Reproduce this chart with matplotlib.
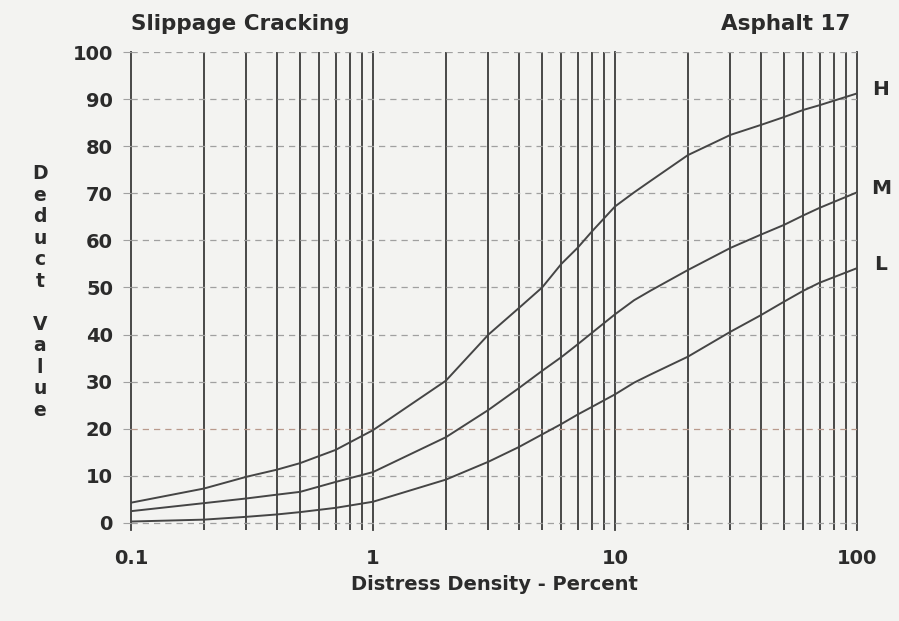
import matplotlib
matplotlib.use("Agg")
import matplotlib.pyplot as plt
from matplotlib.ticker import LogLocator, FixedLocator, NullFormatter

plt.rcParams['font.family'] = ['DejaVu Sans']

# ---- data ----
density = [0.1, 0.2, 0.3, 0.4, 0.5, 0.7, 1, 2, 3, 4, 5, 6, 7, 8, 10, 12, 14,
           20, 30, 40, 50, 60, 70, 100]
deduct_H = [4.3, 7.3, 9.8, 11.3, 12.7, 15.5, 19.7, 30.2, 40, 45.6, 50, 55, 58.4,
            61.8, 67.2, 70.2, 72.6, 78.1, 82.4, 84.5, 86.2, 87.7, 88.7, 91.2]
deduct_M = [2.5, 4.2, 5.2, 6.0, 6.6, 8.7, 10.8, 18.2, 24, 28.6, 32.3, 35.2, 37.9,
            40.3, 44.3, 47.3, 49.3, 53.7, 58.4, 61.2, 63.3, 65.3, 66.9, 70.2]
deduct_L = [0.3, 0.7, 1.3, 1.8, 2.3, 3.2, 4.5, 9.2, 13, 16.1, 18.8, 21, 23,
            24.6, 27.3, 29.8, 31.5, 35.3, 40.6, 44.1, 47, 49.3, 51, 54.1]
series_names = ["H", "M", "L"]
x_ticks = [0.1, 1, 10, 100]
x_ticklabels = ["0.1", "1", "10", "100"]
y_ticks = [0, 10, 20, 30, 40, 50, 60, 70, 80, 90, 100]

title_left = "Slippage Cracking"
title_right = "Asphalt 17"
x_label = "Distress Density - Percent"
y_label = "Deduct Value"

# ---- figure ----
bg = "#f3f3f1"
ink = "#2b2b2b"
fig = plt.figure(figsize=(8.99, 6.21), dpi=100, facecolor=bg)
W, H = 899, 621
ax = fig.add_axes([131 / W, 1 - 530 / H, (857 - 131) / W, (530 - 52) / H])
ax.set_facecolor(bg)
ax.set_xscale("log")
ax.set_xlim(0.1, 100)
ax.set_ylim(-1.5, 100)

for s in ax.spines.values():
    s.set_visible(False)

ax.xaxis.set_major_locator(FixedLocator(x_ticks))
ax.set_xticklabels(x_ticklabels)
ax.xaxis.set_minor_locator(LogLocator(base=10, subs=[2, 3, 4, 5, 6, 7, 8, 9]))
ax.xaxis.set_minor_formatter(NullFormatter())
ax.set_yticks(y_ticks)

ax.grid(axis="x", which="both", color="#3a3a3a", linewidth=1.3, zorder=1)
ax.grid(axis="y", which="major", color="#a0a0a0", linewidth=0.9,
        linestyle=(0, (5, 4)), zorder=1)
for gl in ax.xaxis.get_gridlines():
    gl.set_clip_on(False)
ygl = ax.get_ygridlines()
ygl[2].set_color("#b99a8c")

ax.tick_params(axis="x", which="both", length=0, pad=14, labelsize=14,
               labelcolor=ink)
ax.tick_params(axis="y", which="major", length=6, width=0.8, color="#a0a0a0",
               pad=7, labelsize=14, labelcolor=ink)
for lab in ax.get_xticklabels() + ax.get_yticklabels():
    lab.set_fontweight("bold")

for name, vals in zip(series_names, [deduct_H, deduct_M, deduct_L]):
    ax.plot(density, vals, color="#454545", linewidth=1.4, zorder=3)
    ax.annotate(name, xy=(density[-1], vals[-1]), xytext=(24, 4),
                textcoords="offset pixels", ha="center", va="center",
                fontsize=14.5, fontweight="bold", color=ink,
                annotation_clip=False)

fig.text(131 / W, 1 - 24 / H, title_left, ha="left", va="center",
         fontsize=15.5, fontweight="bold", color=ink)
fig.text(850 / W, 1 - 24 / H, title_right, ha="right", va="center",
         fontsize=15.5, fontweight="bold", color=ink)
fig.text(494 / W, 1 - 584 / H, x_label, ha="center", va="center",
         fontsize=14, fontweight="bold", color=ink)
fig.text(40 / W, 1 - 292 / H, "\n".join(y_label), ha="center", va="center",
         fontsize=13.5, fontweight="bold", color=ink, linespacing=1.17)

fig.savefig("out.png", dpi=100, facecolor=bg)
